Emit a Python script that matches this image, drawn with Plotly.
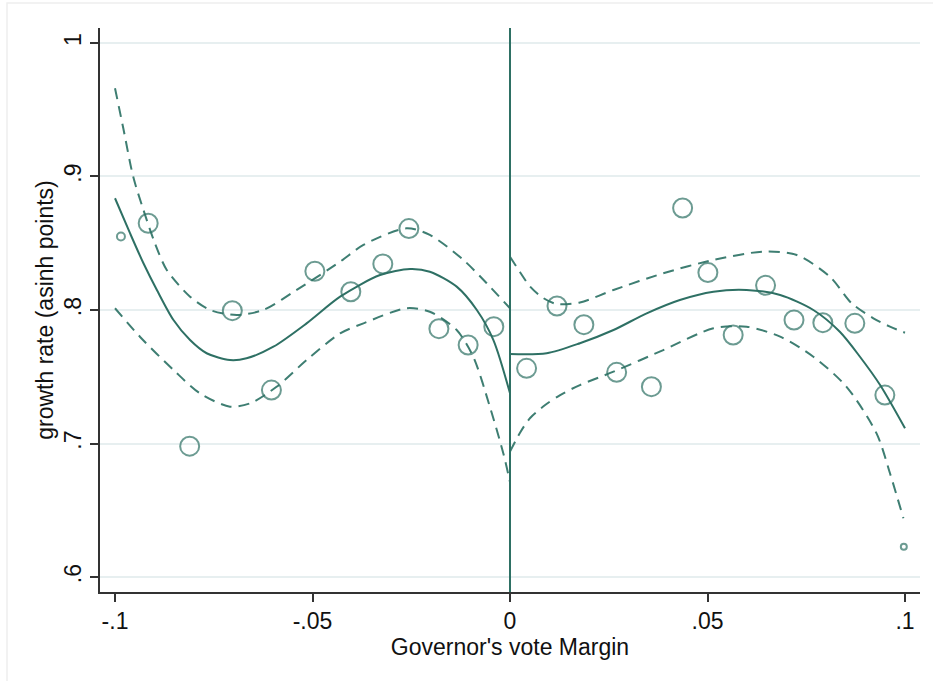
import plotly.graph_objects as go

# Binned means of growth rate by governor's vote margin
bin_margin = [-0.0985, -0.0916, -0.0811, -0.0703, -0.0604, -0.0494, -0.0403, -0.0322,
              -0.0256, -0.0180, -0.0106, -0.0041, 0.0042, 0.0119, 0.0187, 0.0270,
              0.0358, 0.0437, 0.0501, 0.0565, 0.0647, 0.0719, 0.0792, 0.0873,
              0.0949, 0.0997]
bin_growth = [0.855, 0.865, 0.698, 0.7995, 0.740, 0.829, 0.8137, 0.8345,
              0.861, 0.786, 0.7738, 0.7875, 0.7563, 0.803, 0.789, 0.7533,
              0.7426, 0.8764, 0.828, 0.7813, 0.8185, 0.7925, 0.7905, 0.790,
              0.7363, 0.6227]
# bins that only partly fall inside the window are drawn smaller
partial_bin = [True] + [False] * 24 + [True]

# Polynomial fit, left of the cutoff
left_fit_x = [-0.1000, -0.0962, -0.0928, -0.0894, -0.0852, -0.0810, -0.0768, -0.0709,
              -0.0667, -0.0599, -0.0515, -0.0430, -0.0329, -0.0253, -0.0203, -0.0135,
              -0.0084, -0.0042, 0.0]
left_fit_y = [0.8837, 0.8575, 0.8350, 0.8150, 0.7925, 0.7775, 0.7676, 0.7625,
              0.7638, 0.7725, 0.7900, 0.8100, 0.8262, 0.8307, 0.8287, 0.8175,
              0.8000, 0.7775, 0.7376]
left_hi_x = [-0.1000, -0.0979, -0.0954, -0.0928, -0.0899, -0.0869, -0.0810, -0.0759,
             -0.0692, -0.0625, -0.0540, -0.0430, -0.0371, -0.0262, -0.0203, -0.0118,
             -0.0059, 0.0]
left_hi_y = [0.9661, 0.9361, 0.8999, 0.8749, 0.8500, 0.8300, 0.8100, 0.8000,
             0.7963, 0.8000, 0.8150, 0.8362, 0.8487, 0.8612, 0.8562, 0.8375,
             0.8200, 0.8013]
left_lo_x = [-0.1000, -0.0937, -0.0852, -0.0785, -0.0709, -0.0658, -0.0591, -0.0515,
             -0.0430, -0.0371, -0.0262, -0.0203, -0.0135, -0.0093, -0.0051, -0.0017,
             0.0]
left_lo_y = [0.8013, 0.7800, 0.7551, 0.7376, 0.7276, 0.7301, 0.7425, 0.7625,
             0.7825, 0.7900, 0.8013, 0.7987, 0.7850, 0.7650, 0.7276, 0.6927,
             0.6712]

# Polynomial fit, right of the cutoff
right_fit_x = [0.0, 0.0093, 0.0177, 0.0262, 0.0346, 0.0430, 0.0515, 0.0599,
               0.0684, 0.0768, 0.0835, 0.0886, 0.0937, 0.1000]
right_fit_y = [0.7670, 0.7676, 0.7751, 0.7850, 0.7975, 0.8075, 0.8137, 0.8150,
               0.8112, 0.8000, 0.7837, 0.7650, 0.7438, 0.7114]
right_hi_x = [0.0, 0.0025, 0.0051, 0.0084, 0.0118, 0.0177, 0.0262, 0.0388,
              0.0515, 0.0641, 0.0726, 0.0810, 0.0865, 0.0920, 0.0962, 0.1000]
right_hi_y = [0.8399, 0.8285, 0.8175, 0.8090, 0.8045, 0.8056, 0.8150, 0.8275,
              0.8375, 0.8437, 0.8412, 0.8249, 0.8050, 0.7938, 0.7875, 0.7830]
right_lo_x = [0.0, 0.0025, 0.0051, 0.0089, 0.0127, 0.0177, 0.0262, 0.0388,
              0.0515, 0.0599, 0.0684, 0.0768, 0.0852, 0.0928, 0.0962, 0.0996]
right_lo_y = [0.6939, 0.7079, 0.7191, 0.7288, 0.7363, 0.7438, 0.7538, 0.7700,
              0.7863, 0.7875, 0.7800, 0.7650, 0.7425, 0.7076, 0.6777, 0.6440]

x_ticks = [-0.1, -0.05, 0, 0.05, 0.1]
x_tick_text = ["-.1", "-.05", "0", ".05", ".1"]
y_ticks = [0.6, 0.7, 0.8, 0.9, 1.0]
y_tick_text = [".6", ".7", ".8", ".9", "1"]

TEAL = "rgb(46,112,100)"
TEAL_DASH = "rgb(62,126,114)"
FONT = "Liberation Sans, Arial, sans-serif"

fig = go.Figure()

for xs, ys, dash, col in [
    (left_hi_x, left_hi_y, "11px,7px", TEAL_DASH),
    (left_lo_x, left_lo_y, "11px,7px", TEAL_DASH),
    (right_hi_x, right_hi_y, "11px,7px", TEAL_DASH),
    (right_lo_x, right_lo_y, "11px,7px", TEAL_DASH),
    (left_fit_x, left_fit_y, "solid", TEAL),
    (right_fit_x, right_fit_y, "solid", TEAL),
]:
    fig.add_trace(go.Scatter(
        x=xs, y=ys, mode="lines",
        line=dict(color=col, width=2, dash=dash, shape="spline", smoothing=0.8),
        hoverinfo="skip", showlegend=False,
    ))

sizes = []
for i, p in enumerate(partial_bin):
    if p:
        sizes.append(8 if i == 0 else 6)
    else:
        sizes.append(19)

fig.add_trace(go.Scatter(
    x=bin_margin, y=bin_growth, mode="markers",
    marker=dict(symbol="circle-open", size=sizes, color=TEAL, line=dict(width=2, color=TEAL)),
    showlegend=False,
))

# cutoff line at zero margin
fig.add_shape(type="line", xref="x", yref="paper", x0=0, x1=0, y0=0, y1=1,
              line=dict(color=TEAL, width=2))

# faint outer frame of the graph region
fig.add_shape(type="rect", xref="paper", yref="paper",
              x0=-0.1134, x1=1.2, y0=-0.3, y1=1.0443,
              line=dict(color="#eeeeee", width=1.5), fillcolor="rgba(0,0,0,0)", layer="below")

fig.update_layout(
    width=933, height=681,
    margin=dict(l=100, r=13, t=28, b=89),
    paper_bgcolor="white", plot_bgcolor="white",
    font=dict(family=FONT, size=23, color="#111111"),
    xaxis=dict(
        range=[-0.1038, 0.1038],
        tickvals=x_ticks, ticktext=x_tick_text,
        ticks="outside", ticklen=8, tickwidth=1.5, tickcolor="#333333",
        showline=True, linecolor="#333333", linewidth=1.5,
        showgrid=False, zeroline=False,
        title=dict(text="Governor's vote Margin", standoff=2, font=dict(size=23)),
        tickfont=dict(size=23),
    ),
    yaxis=dict(
        range=[0.5888, 1.0112],
        tickvals=y_ticks, ticktext=y_tick_text, tickangle=-90,
        ticks="outside", ticklen=8, tickwidth=1.5, tickcolor="#333333",
        showline=True, linecolor="#333333", linewidth=1.5,
        showgrid=True, gridcolor="#e7eff0", gridwidth=1.5, zeroline=False,
        title=dict(text="growth rate (asinh points)", standoff=0, font=dict(size=23)),
        tickfont=dict(size=23),
    ),
)

fig.write_html("out.html")
